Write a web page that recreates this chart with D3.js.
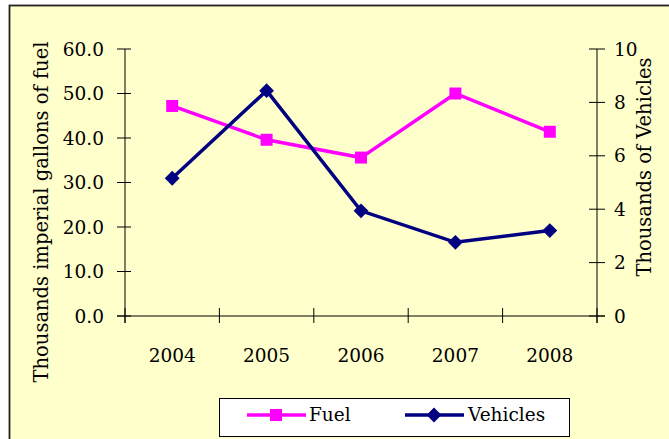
<!DOCTYPE html>
<html><head><meta charset="utf-8">
<script src="https://cdn.jsdelivr.net/npm/d3@7"></script>
<style>html,body{margin:0;padding:0;background:#fff;}svg{display:block;}</style>
</head><body>
<svg id="c" width="669" height="439"></svg>
<script>
const years = ["2004","2005","2006","2007","2008"];
const fuel = [47.2, 39.6, 35.6, 50.0, 41.4];
const vehicles = [5.16, 8.44, 3.94, 2.76, 3.2];
const leftTicks = [0,10,20,30,40,50,60];
const rightTicks = [0,2,4,6,8,10];

const svg = d3.select("#c");
const FONT = "DejaVu Serif";
const fs = 18.5;
const tfs = 19.5;
svg.append("rect").attr("x",9.5).attr("y",5.5).attr("width",670).attr("height",450)
  .attr("fill","#FFFFCC").attr("stroke","#222").attr("stroke-width",1.8);

const L=125, R=597, T=49, B=316;
const x = d3.scaleBand().domain(years).range([L,R]);
const yL = d3.scaleLinear().domain([0,60]).range([B,T]);
const yR = d3.scaleLinear().domain([0,10]).range([B,T]);

const g = svg.append("g");
g.append("line").attr("x1",L).attr("x2",L).attr("y1",T).attr("y2",B+7).attr("stroke","#000");
g.append("line").attr("x1",R).attr("x2",R).attr("y1",T).attr("y2",B+7).attr("stroke","#000");
g.append("line").attr("x1",L-8).attr("x2",R+8).attr("y1",B).attr("y2",B).attr("stroke","#000");
leftTicks.forEach(v=>{
  g.append("line").attr("x1",L-8).attr("x2",L+6).attr("y1",yL(v)).attr("y2",yL(v)).attr("stroke","#000");
  g.append("text").attr("x",L-21).attr("y",yL(v)).attr("dy","0.36em").attr("text-anchor","end")
    .attr("font-family",FONT).attr("font-size",fs).text(d3.format(".1f")(v));
});
rightTicks.forEach(v=>{
  g.append("line").attr("x1",R-8).attr("x2",R+8).attr("y1",yR(v)).attr("y2",yR(v)).attr("stroke","#000");
  g.append("text").attr("x",R+17).attr("y",yR(v)).attr("dy","0.36em").attr("text-anchor","start")
    .attr("font-family",FONT).attr("font-size",fs).text(v);
});
const bounds = years.map(d=>x(d)).concat([R]);
bounds.forEach(bx=>{
  g.append("line").attr("x1",bx).attr("x2",bx).attr("y1",B-8).attr("y2",B+7).attr("stroke","#000");
});
years.forEach(d=>{
  g.append("text").attr("x",x(d)+x.bandwidth()/2).attr("y",362).attr("text-anchor","middle")
    .attr("font-family",FONT).attr("font-size",fs).text(d);
});
g.append("text").attr("transform","translate(48,212) rotate(-90)").attr("text-anchor","middle")
  .attr("font-family",FONT).attr("font-size",tfs).text("Thousands imperial gallons of fuel");
g.append("text").attr("transform","translate(651,167) rotate(-90)").attr("text-anchor","middle")
  .attr("font-family",FONT).attr("font-size",tfs).text("Thousands of Vehicles");

const cx = d=>x(d)+x.bandwidth()/2;
const lineF = d3.line().x((d,i)=>cx(years[i])).y(d=>yL(d));
const lineV = d3.line().x((d,i)=>cx(years[i])).y(d=>yR(d));
g.append("path").attr("d",lineF(fuel)).attr("fill","none").attr("stroke","#FF00FF").attr("stroke-width",3.5);
g.append("path").attr("d",lineV(vehicles)).attr("fill","none").attr("stroke","#000080").attr("stroke-width",3.5);
const sq = d3.symbol().type(d3.symbolSquare).size(144);
const dm = d3.symbol().type(d3.symbolSquare).size(110);
fuel.forEach((v,i)=>g.append("path").attr("d",sq()).attr("transform",`translate(${cx(years[i])},${yL(v)})`).attr("fill","#FF00FF"));
vehicles.forEach((v,i)=>g.append("path").attr("d",dm()).attr("transform",`translate(${cx(years[i])},${yR(v)}) rotate(45)`).attr("fill","#000080"));

const lg = svg.append("g");
lg.append("rect").attr("x",219.5).attr("y",398.5).attr("width",350).attr("height",38).attr("fill","#fff").attr("stroke","#000");
lg.append("line").attr("x1",247).attr("x2",306).attr("y1",415).attr("y2",415).attr("stroke","#FF00FF").attr("stroke-width",3.5);
lg.append("path").attr("d",sq()).attr("transform","translate(276,415)").attr("fill","#FF00FF");
lg.append("text").attr("x",309).attr("y",421).attr("font-family",FONT).attr("font-size",fs).text("Fuel");
lg.append("line").attr("x1",405).attr("x2",464).attr("y1",415).attr("y2",415).attr("stroke","#000080").attr("stroke-width",3.5);
lg.append("path").attr("d",dm()).attr("transform","translate(434,415) rotate(45)").attr("fill","#000080");
lg.append("text").attr("x",468).attr("y",421).attr("font-family",FONT).attr("font-size",fs).text("Vehicles");
</script>
</body></html>
